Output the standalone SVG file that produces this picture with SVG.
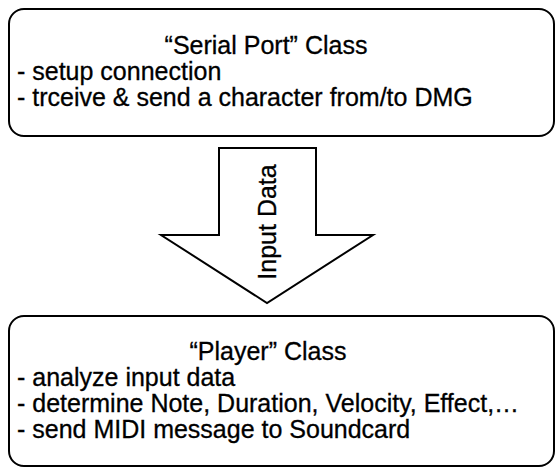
<svg xmlns="http://www.w3.org/2000/svg" width="557" height="468" viewBox="0 0 557 468">
<style>
.box{fill:#fff;stroke:#000;stroke-width:2}
.t{font-family:"Liberation Sans",Arial,sans-serif;font-size:25px;fill:#000;stroke:#000;stroke-width:0.3}
.c{text-anchor:middle}
</style>
<rect width="557" height="468" fill="#fff"/>
<g id="serial">
<rect class="box" x="9" y="9" width="545" height="127" rx="15" ry="15"/>
<text class="t c" x="266" y="54">“Serial Port” Class</text>
<text class="t" x="17" y="80">- setup connection</text>
<text class="t" x="17" y="106">- trceive &amp; send a character from/to DMG</text>
</g>
<g id="connectors">
<path class="box" d="M219 148 H316 V235 H373 L267 303 L161 235 H219 Z" stroke-linejoin="miter"/>
<text class="t c" transform="translate(276 222) rotate(-90)">Input Data</text>
</g>
<g id="player">
<rect class="box" x="9" y="316" width="545" height="150" rx="15" ry="15"/>
<text class="t c" x="268" y="360">“Player” Class</text>
<text class="t" x="17" y="386">- analyze input data</text>
<text class="t" x="17" y="412">- determine Note, Duration, Velocity, Effect,…</text>
<text class="t" x="17" y="438">- send MIDI message to Soundcard</text>
</g>
</svg>
